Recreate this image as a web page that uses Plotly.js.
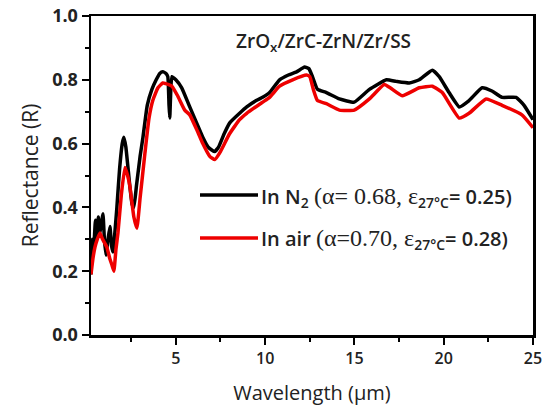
<!DOCTYPE html>
<html><head><meta charset="utf-8">
<script src="https://cdn.plot.ly/plotly-3.0.1.min.js"></script>
<style>body{margin:0;background:#fff}#c{width:545px;height:414px}</style>
</head><body><div id="c"></div>
<script>
const wlN2 = [0.25,0.33,0.40,0.50,0.58,0.66,0.74,0.86,0.92,1.00,1.09,1.20,1.31,1.40,1.48,1.60,1.70,1.85,2.0,2.09,2.2,2.4,2.55,2.65,2.8,3.0,3.16,3.4,3.66,3.9,4.1,4.27,4.45,4.55,4.62,4.66,4.70,4.78,5.0,5.33,5.78,6.2,6.51,6.8,7.01,7.18,7.4,7.7,8.02,8.57,8.97,9.5,9.86,10.25,10.81,11.3,11.76,12.21,12.45,12.65,12.93,13.43,14.16,14.99,15.84,16.79,17.34,18.07,18.63,19.36,19.75,20.3,20.87,21.42,22.15,22.7,23.27,24.05,24.5,25];
const rN2 = [0.19,0.30,0.27,0.36,0.30,0.37,0.32,0.36,0.38,0.30,0.25,0.30,0.34,0.28,0.26,0.33,0.40,0.52,0.60,0.62,0.59,0.48,0.41,0.40,0.47,0.56,0.62,0.72,0.77,0.80,0.82,0.825,0.82,0.81,0.72,0.68,0.74,0.81,0.80,0.775,0.715,0.66,0.62,0.59,0.58,0.575,0.59,0.63,0.665,0.695,0.715,0.735,0.745,0.76,0.80,0.815,0.825,0.84,0.835,0.81,0.77,0.76,0.74,0.73,0.77,0.80,0.795,0.79,0.80,0.83,0.81,0.76,0.715,0.735,0.775,0.765,0.745,0.745,0.72,0.675];
const wlAir = [0.25,0.36,0.47,0.60,0.75,0.9,1.14,1.30,1.42,1.53,1.65,1.76,1.95,2.15,2.3,2.43,2.65,2.82,3.0,3.27,3.5,3.71,4.0,4.27,4.6,4.78,5.1,5.50,5.78,6.2,6.51,6.9,7.18,7.5,8.0,8.57,8.97,9.86,10.25,10.81,11.54,12.32,12.5,12.7,12.93,13.43,14.16,14.99,15.84,16.67,17.0,17.68,18.63,19.36,19.92,20.87,21.42,22.37,23.27,24.38,25];
const rAir = [0.19,0.24,0.275,0.30,0.32,0.30,0.275,0.24,0.22,0.20,0.27,0.32,0.44,0.525,0.50,0.465,0.37,0.335,0.43,0.57,0.68,0.735,0.775,0.79,0.785,0.78,0.75,0.705,0.69,0.64,0.60,0.56,0.55,0.575,0.63,0.675,0.695,0.73,0.745,0.78,0.80,0.815,0.81,0.77,0.735,0.725,0.705,0.705,0.74,0.785,0.775,0.75,0.775,0.78,0.76,0.68,0.695,0.74,0.72,0.69,0.65];
const xTicks = [5,10,15,20,25];
const yTicks = [0,0.2,0.4,0.6,0.8,1.0];
const yTickText = ['0.0','0.2','0.4','0.6','0.8','1.0'];

const sans = '"Open Sans", Lato, sans-serif';
const traces = [
  {x: wlN2, y: rN2, mode:'lines', line:{color:'#000000', width:3.5, shape:'spline', smoothing:0.4}, showlegend:false},
  {x: wlAir, y: rAir, mode:'lines', line:{color:'#ee0000', width:3.5, shape:'spline', smoothing:0.4}, showlegend:false}
];
const axisCommon = {showgrid:false, zeroline:false, showline:true, linewidth:2.5, linecolor:'#000', mirror:true, ticks:'outside', ticklen:7, tickwidth:2, tickcolor:'#000'};
const layout = {
  width:545, height:414,
  margin:{l:91, r:12, t:16, b:79},
  paper_bgcolor:'#fff', plot_bgcolor:'#fff',
  xaxis: Object.assign({}, axisCommon, {range:[0.25,25], tickvals:xTicks, ticktext:xTicks.map(String),
    minor:{tickvals:[2.5,7.5,12.5,17.5,22.5], ticks:'outside', ticklen:4, tickwidth:2, tickcolor:'#000'},
    tickfont:{family:sans, size:16, color:'#222', weight:600},
    title:{text:'Wavelength (μm)', font:{family:sans, size:20, color:'#222'}, standoff:19}}),
  yaxis: Object.assign({}, axisCommon, {range:[0,1], tickvals:yTicks, ticktext:yTickText,
    minor:{tickvals:[0.1,0.3,0.5,0.7,0.9], ticks:'outside', ticklen:4, tickwidth:2, tickcolor:'#000'},
    tickfont:{family:sans, size:18, color:'#222', weight:'bold'},
    title:{text:'Reflectance (R)', font:{family:sans, size:21, color:'#222'}, standoff:8}}),
  shapes:[
    {type:'line', xref:'paper', yref:'paper', x0:(200-91)/442, x1:(258-91)/442, y0:(335-195)/319, y1:(335-195)/319, line:{color:'#000', width:3.5}},
    {type:'line', xref:'paper', yref:'paper', x0:(200-91)/442, x1:(258-91)/442, y0:(335-238)/319, y1:(335-238)/319, line:{color:'#ee0000', width:3.5}}
  ],
  annotations:[
    {xref:'paper', yref:'paper', x:(323-91)/442, y:(335-42)/319, text:'ZrO<sub>x</sub>/ZrC-ZrN/Zr/SS', showarrow:false, xanchor:'center', yanchor:'middle', font:{family:sans, size:19, color:'#222', weight:600}},
    {xref:'paper', yref:'paper', x:(259-91)/442, y:(335-197)/319, xanchor:'left', yanchor:'middle', showarrow:false,
     text:'In N<sub>2</sub> <span style="font-family:Liberation Serif;font-weight:normal;font-size:24px">(α= 0.68, ε</span><sub>27°C</sub>= 0.25)', font:{family:sans, size:20, color:'#222', weight:600}},
    {xref:'paper', yref:'paper', x:(259-91)/442, y:(335-239)/319, xanchor:'left', yanchor:'middle', showarrow:false,
     text:'In air <span style="font-family:Liberation Serif;font-weight:normal;font-size:24px">(α=0.70, ε</span><sub>27°C</sub>= 0.28)', font:{family:sans, size:20, color:'#222', weight:600}}
  ]
};
Plotly.newPlot('c', traces, layout, {staticPlot:true, displayModeBar:false});
</script></body></html>
